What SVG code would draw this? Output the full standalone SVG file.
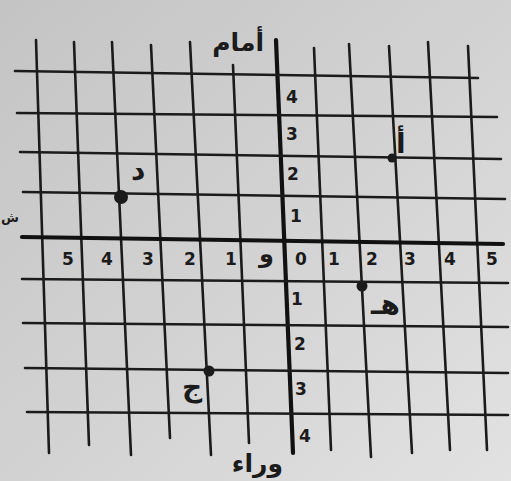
<svg xmlns="http://www.w3.org/2000/svg" width="511" height="481" viewBox="0 0 511 481">
<defs>
<linearGradient id="bg" x1="0" y1="0" x2="1" y2="1">
<stop offset="0" stop-color="#c4c4c4"/>
<stop offset="0.5" stop-color="#d2d2d2"/>
<stop offset="1" stop-color="#e2e2e2"/>
</linearGradient>
</defs>
<style>
.g{stroke:#1b1b1b;stroke-width:2.6;stroke-linecap:round;fill:none}
.a{stroke:#111;stroke-width:4.2;stroke-linecap:round;fill:none}
.t{font-family:"DejaVu Sans",sans-serif;font-weight:bold;fill:#1b1b1b}
.n{font-size:17px}
.l{font-size:25px}
.p{font-size:28px}
.d{fill:#1b1b1b}
</style>
<rect width="511" height="481" fill="url(#bg)"/>
<g id="grid">
<path class="g" d="M36,40 L49,453"/>
<path class="g" d="M74,42 L89,445"/>
<path class="g" d="M112,42 L131,455"/>
<path class="g" d="M151,45 L170,438"/>
<path class="g" d="M190,42 L211,455"/>
<path class="g" d="M233,65 L249,443"/>
<path class="a" d="M276,40 L293,453"/>
<path class="g" d="M314,48 L331,450"/>
<path class="g" d="M349,44 L371,457"/>
<path class="g" d="M389,46 L412,453"/>
<path class="g" d="M428,42 L450,450"/>
<path class="g" d="M468,46 L487,450"/>
<path class="g" d="M15,71 L478,78"/>
<path class="g" d="M17,113 L497,117"/>
<path class="g" d="M20,152 L501,159"/>
<path class="g" d="M23,192 L505,199"/>
<path class="a" d="M22,237 L503,244"/>
<path class="g" d="M22,279 L508,283"/>
<path class="g" d="M23,323 L508,327"/>
<path class="g" d="M25,368 L508,373"/>
<path class="g" d="M27,412 L508,415"/>
</g>
<g id="axis-labels" class="t n">
<text x="286" y="103">4</text>
<text x="286" y="140">3</text>
<text x="287" y="180">2</text>
<text x="290" y="222">1</text>
<text x="291" y="305">1</text>
<text x="294" y="350">2</text>
<text x="295" y="395">3</text>
<text x="299" y="442">4</text>
<text x="62" y="265">5</text>
<text x="101" y="265">4</text>
<text x="142" y="265">3</text>
<text x="184" y="265">2</text>
<text x="225" y="265">1</text>
<text x="259" y="262" style="font-size:24px">و</text>
<text x="295" y="265">0</text>
<text x="328" y="265">1</text>
<text x="366" y="265">2</text>
<text x="404" y="265">3</text>
<text x="444" y="265">4</text>
<text x="486" y="265">5</text>
</g>
<g id="directions" class="t l">
<text x="264" y="51" text-anchor="end">أمام</text>
<text x="283" y="472" text-anchor="end">وراء</text>
<text x="1" y="222" style="font-size:13px">ش</text>
</g>
<g id="point-a">
<circle class="d" cx="392" cy="158" r="4.5"/>
<text class="t p" x="396" y="153">أ</text>
</g>
<g id="point-d">
<circle class="d" cx="121" cy="197" r="7"/>
<text class="t p" x="131" y="180">د</text>
</g>
<g id="point-h">
<circle class="d" cx="362" cy="286" r="5.5"/>
<text class="t p" x="371" y="314">هـ</text>
</g>
<g id="point-j">
<circle class="d" cx="209" cy="371" r="5.5"/>
<text class="t p" x="182" y="396">ج</text>
</g>
</svg>
